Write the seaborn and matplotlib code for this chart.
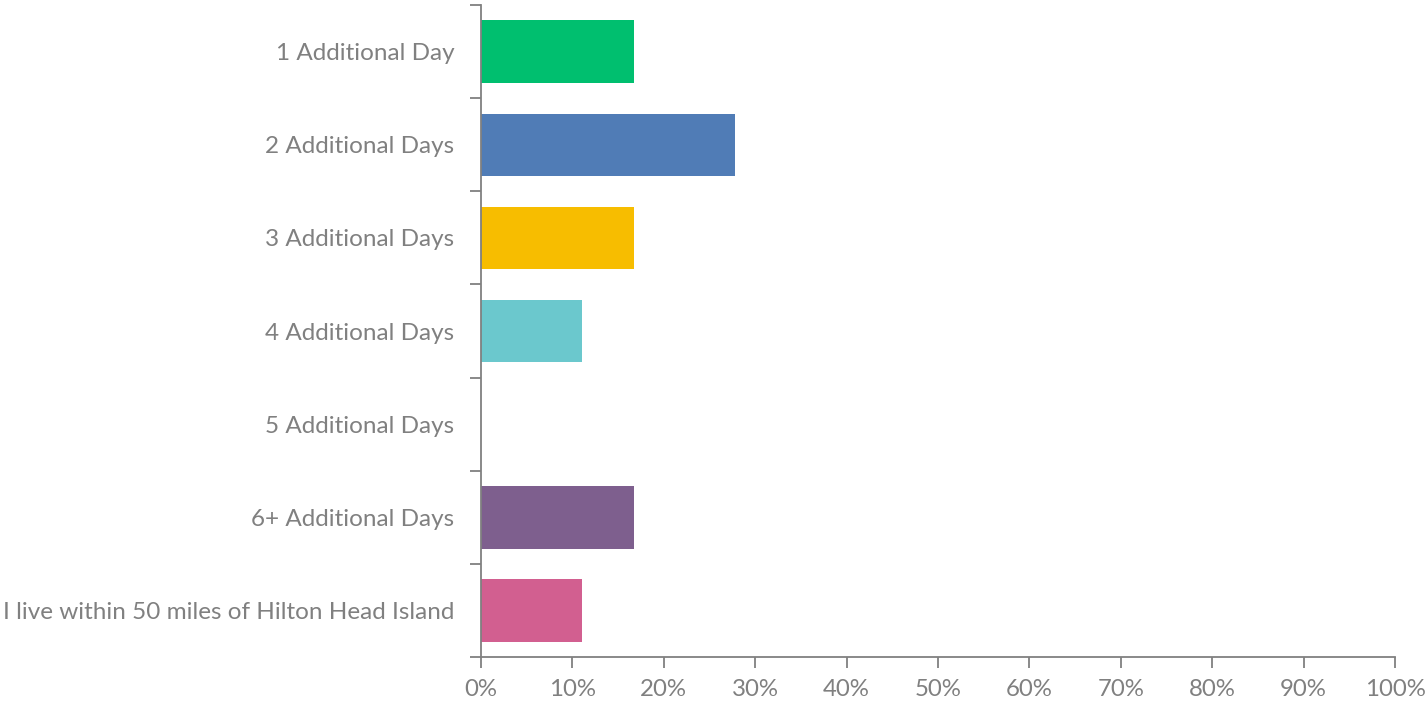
import numpy as np
import pandas as pd
import seaborn as sns
import matplotlib.pyplot as plt
from matplotlib.ticker import FixedLocator, PercentFormatter

answers = ['1 Additional Day', '2 Additional Days', '3 Additional Days', '4 Additional Days',
           '5 Additional Days', '6+ Additional Days', 'I live within 50 miles of Hilton Head Island']
shares = [16.7, 27.8, 16.7, 11.1, 0.0, 16.7, 11.1]
bar_colors = ['#00BF6F', '#507CB6', '#F7BD00', '#6BC8CD', '#A0A0A0', '#7E5F8E', '#D25F90']

df = pd.DataFrame({'answer': answers, 'share': shares})

sns.set_style('white')
plt.rcParams['font.family'] = ['Lato', 'DejaVu Sans']
grey = '#808080'

fig = plt.figure(figsize=(14.27, 7.03), dpi=100)
ax = fig.add_axes([0.337, 0.0654, 0.6406, 0.9275])
sns.barplot(data=df, x='share', y='answer', hue='answer', palette=bar_colors,
            order=answers, hue_order=answers, legend=False, width=0.67,
            saturation=1, linewidth=0, ax=ax)

ax.set_xlim(0, 100)
ax.set_ylim(len(answers) - 0.5, -0.5)
ax.set_xticks(np.arange(0, 101, 10))
ax.xaxis.set_major_formatter(PercentFormatter(decimals=0))
ax.set_xlabel('')
ax.set_ylabel('')

# category boundary ticks on the y axis
ax.yaxis.set_minor_locator(FixedLocator(np.arange(-0.5, len(answers), 1)))
ax.tick_params(axis='y', which='both', left=True)
ax.tick_params(axis='x', which='major', bottom=True)
ax.tick_params(axis='y', which='major', length=0, pad=19, labelsize=17.5, labelcolor=grey)
ax.tick_params(axis='y', which='minor', length=8, width=1.3, color=grey, direction='out')
ax.tick_params(axis='x', length=8, width=1.3, color=grey, direction='out', pad=8,
               labelsize=17.3, labelcolor=grey)

for side in ['top', 'right']:
    ax.spines[side].set_visible(False)
for side in ['left', 'bottom']:
    ax.spines[side].set_color(grey)
    ax.spines[side].set_linewidth(1.3)

fig.savefig('out.png', dpi=100)
